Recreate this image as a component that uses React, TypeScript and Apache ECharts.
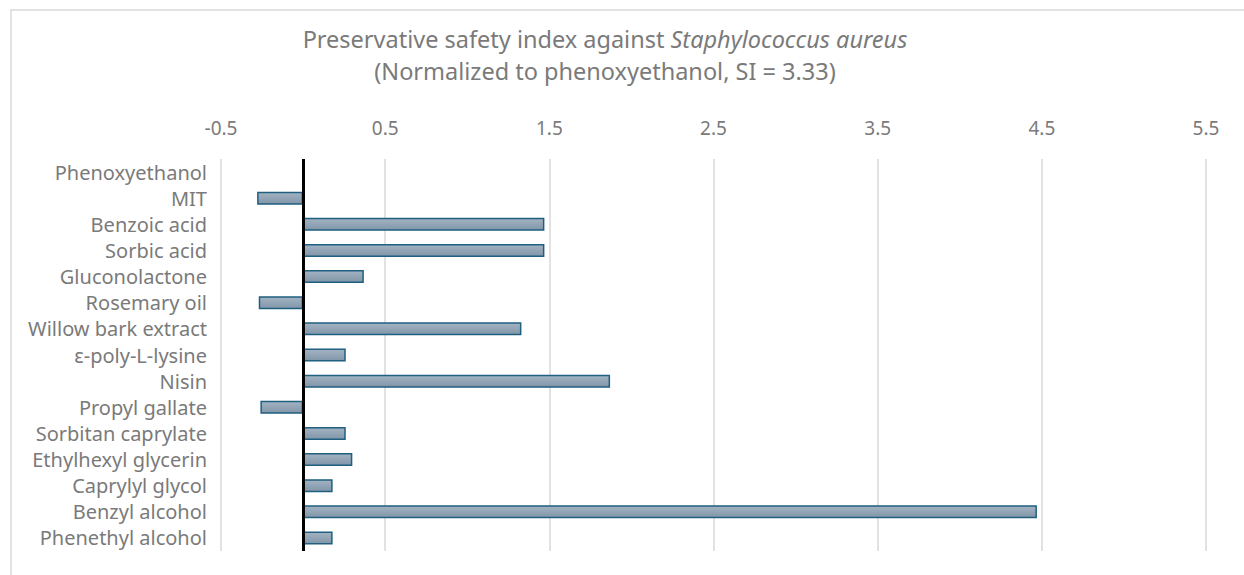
import React, { useEffect, useRef } from "react";
import * as echarts from "echarts";

const categories = [
  "Phenoxyethanol",
  "MIT",
  "Benzoic acid",
  "Sorbic acid",
  "Gluconolactone",
  "Rosemary oil",
  "Willow bark extract",
  "ε-poly-L-lysine",
  "Nisin",
  "Propyl gallate",
  "Sorbitan caprylate",
  "Ethylhexyl glycerin",
  "Caprylyl glycol",
  "Benzyl alcohol",
  "Phenethyl alcohol",
];

const safetyIndex = [0, -0.28, 1.47, 1.47, 0.37, -0.27, 1.33, 0.26, 1.87, -0.26, 0.26, 0.3, 0.18, 4.47, 0.18];

const xMin = -0.5;
const xMax = 5.5;
const xInterval = 1;

const FONT = "'Noto Sans', sans-serif";
const GRAY = "#7a7a7a";

export default function App() {
  const ref = useRef<HTMLDivElement>(null);
  useEffect(() => {
    if (!ref.current) return;
    const chart = echarts.init(ref.current, null, { renderer: "svg" });
    chart.setOption({
      animation: false,
      backgroundColor: "#ffffff",
      graphic: [
        {
          type: "rect",
          shape: { x: 11, y: 10, width: 1400, height: 700 },
          style: { fill: "none", stroke: "#d9d9d9", lineWidth: 1.5 },
          silent: true,
          z: -1,
        },
      ],
      title: {
        left: 600,
        top: 18,
        textAlign: "center",
        text: "{a|Preservative safety index against }{b|Staphylococcus aureus}\n{a|(Normalized to phenoxyethanol, SI = 3.33)}",
        textStyle: {
          fontWeight: "normal",
          rich: {
            a: { fontFamily: FONT, fontSize: 23.5, fontWeight: "normal", color: GRAY, lineHeight: 32 },
            b: { fontFamily: FONT, fontSize: 23.5, fontWeight: "normal", color: GRAY, fontStyle: "italic", lineHeight: 32 },
          },
        },
      },
      grid: { left: 221, right: 38, top: 159, bottom: 24, containLabel: false },
      xAxis: {
        type: "value",
        position: "top",
        min: xMin,
        max: xMax,
        interval: xInterval,
        axisLine: { show: false },
        axisTick: { show: false },
        axisLabel: {
          fontFamily: FONT,
          fontSize: 19,
          color: GRAY,
          margin: 22,
          formatter: (v: number) => v.toFixed(1),
        },
        splitLine: { show: true, lineStyle: { color: "#d9d9d9", width: 1.5 } },
      },
      yAxis: {
        type: "category",
        data: categories,
        inverse: true,
        axisLine: { show: false },
        axisTick: { show: false },
        axisLabel: { fontFamily: FONT, fontSize: 20, color: GRAY, margin: 14 },
        splitLine: { show: false },
      },
      series: [
        {
          type: "bar",
          data: safetyIndex,
          barWidth: 13,
          itemStyle: {
            color: new echarts.graphic.LinearGradient(0, 0, 0, 1, [
              { offset: 0, color: "#a3b3c2" },
              { offset: 1, color: "#8196a9" },
            ]),
            borderColor: "#1f5f80",
            borderWidth: 1.5,
          },
          markLine: {
            silent: true,
            symbol: "none",
            label: { show: false },
            lineStyle: { color: "#000000", width: 3, type: "solid" },
            data: [{ xAxis: 0 }],
          },
        },
      ],
    });
    return () => chart.dispose();
  }, []);
  return (
    <div
      ref={ref}
      style={{ position: "fixed", left: 0, top: 0, width: 1244, height: 575 }}
    />
  );
}
